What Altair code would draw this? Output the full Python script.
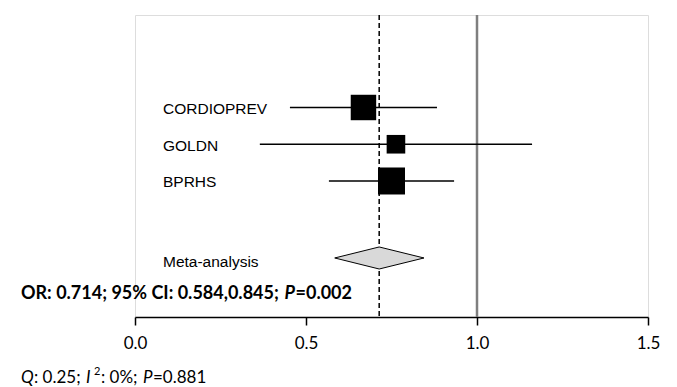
import altair as alt
import pandas as pd

# ---- data ----
studies = ["CORDIOPREV", "GOLDN", "BPRHS"]
rows = [1, 2, 3]
odds_ratio = [0.668, 0.763, 0.750]
ci_low = [0.453, 0.365, 0.567]
ci_high = [0.883, 1.161, 0.933]
weights = [37.6, 20.1, 42.3]

meta_label = "Meta-analysis"
meta_row = 5.095
meta_or = 0.714
meta_low = 0.584
meta_high = 0.845

null_value = 1.0
tick_values = [0.0, 0.5, 1.0, 1.5]

or_text = ["OR: 0.714; 95% CI: 0.584,0.845; ", "P", "=0.002"]
het_text = ["Q", ": 0.25; ", "I", "2", ": 0%; ", "P", "=0.881"]

# ---- tables ----
df = pd.DataFrame({"study": studies, "row": rows, "or": odds_ratio,
                   "lo": ci_low, "hi": ci_high, "w": weights})
half_h = 0.30
diamond = pd.DataFrame({
    "x": [meta_low, meta_or, meta_high],
    "y": [meta_row, meta_row - half_h, meta_row],
    "y2": [meta_row, meta_row + half_h, meta_row],
})
meta_df = pd.DataFrame({"label": [meta_label], "row": [meta_row]})

W, H = 513, 302
xscale = alt.Scale(domain=[0, 1.5], nice=False, zero=False)
yscale = alt.Scale(domain=[6.701, -1.517], nice=False, zero=False)

base = alt.Chart(df)

x_axis = alt.Axis(values=tick_values, format=".1f", title=None, grid=False,
                  domainColor="black", domainWidth=1.5, tickColor="black",
                  tickWidth=1.5, tickSize=8, labelFont="Lato", labelFontSize=17,
                  labelColor="black", labelPadding=10, labelFlush=False)

null_line = alt.Chart(pd.DataFrame({"x": [null_value]})).mark_rule(
    color="#7f7f7f", strokeWidth=2.5).encode(
    x=alt.X("x:Q", scale=xscale, axis=x_axis))

pooled_line = alt.Chart(pd.DataFrame({"x": [meta_or]})).mark_rule(
    color="black", strokeWidth=1.5, strokeDash=[5, 3]).encode(
    x=alt.X("x:Q", scale=xscale))

whiskers = base.mark_rule(color="black", strokeWidth=1.5).encode(
    x=alt.X("lo:Q", scale=xscale),
    x2="hi:Q",
    y=alt.Y("row:Q", scale=yscale, axis=None),
)

squares = base.mark_square(color="black", opacity=1).encode(
    x=alt.X("or:Q", scale=xscale),
    y=alt.Y("row:Q", scale=yscale),
    size=alt.Size("w:Q", scale=alt.Scale(domain=[0, 42.3], range=[0, 729]), legend=None),
)

labels = base.mark_text(align="left", baseline="middle", font="Liberation Sans",
                        fontSize=15.5, color="black", dy=1.5).encode(
    x=alt.value(28),
    y=alt.Y("row:Q", scale=yscale),
    text="study:N",
)

dia = alt.Chart(diamond).mark_area(fill="#d9d9d9", stroke="black", strokeWidth=1,
                                   orient="vertical", opacity=1).encode(
    x=alt.X("x:Q", scale=xscale),
    y=alt.Y("y:Q", scale=yscale),
    y2="y2:Q",
)

meta_lab = alt.Chart(meta_df).mark_text(align="left", baseline="middle",
                                        font="Liberation Sans", fontSize=15.5,
                                        color="black", dy=4).encode(
    x=alt.value(28),
    y=alt.Y("row:Q", scale=yscale),
    text="label:N",
)


def txt(s, x, y, size=17, weight="normal", style="normal", align="left"):
    return alt.Chart(pd.DataFrame({"t": [s]})).mark_text(
        align=align, baseline="middle", font="Lato", fontSize=size,
        fontWeight=weight, fontStyle=style, color="black").encode(
        x=alt.value(x), y=alt.value(y), text="t:N")


or_y = 279
or_parts = [
    txt(or_text[0], -114, or_y, size=18, weight="bold"),
    txt(or_text[1], 160, or_y, size=18, weight="bold", style="italic", align="right"),
    txt(or_text[2], 217, or_y, size=18, weight="bold", align="right"),
]

het_y = 363
het_parts = [
    txt(het_text[0], -114, het_y, style="italic"),
    txt(het_text[1], -101, het_y),
    txt(het_text[2], -49, het_y, style="italic"),
    txt(het_text[3], -41, het_y - 6, size=11),
    txt(het_text[4], -34, het_y),
    txt(het_text[5], 8, het_y, style="italic"),
    txt(het_text[6], 18, het_y),
]

chart = alt.layer(null_line, pooled_line, whiskers, squares, labels, dia, meta_lab,
                  *or_parts, *het_parts).properties(
    width=W, height=H,
    padding={"left": 13, "top": 5, "right": 5, "bottom": 0},
).configure_view(stroke=None).configure(background="white")

chart.save("out.html", embed_options={"renderer": "svg", "actions": False})
